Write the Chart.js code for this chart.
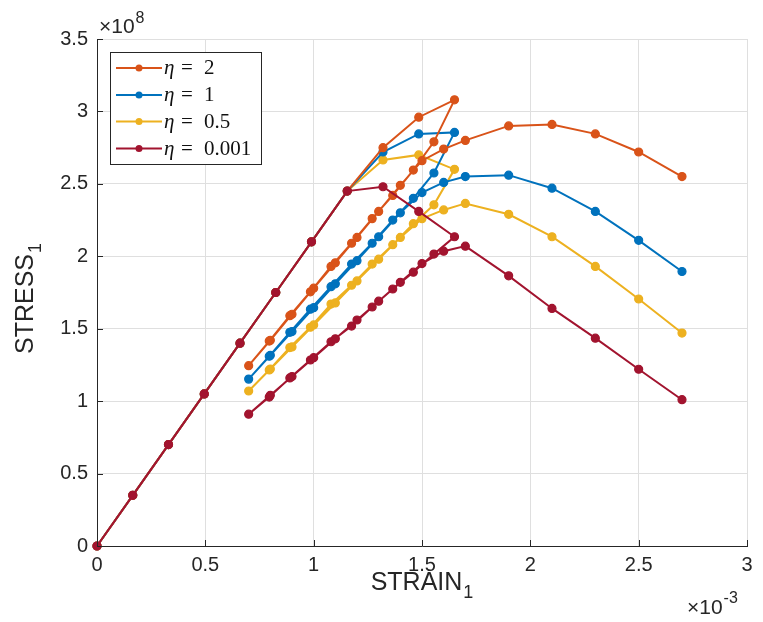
<!DOCTYPE html>
<html><head><meta charset="utf-8">
<script src="https://cdn.jsdelivr.net/npm/chart.js@4.4.1/dist/chart.umd.min.js"></script>
<style>html,body{margin:0;padding:0;background:#fff}canvas{display:block}</style>
</head><body>
<canvas id="c" width="763" height="622"></canvas>
<script>
// strain (x 1e-3): loading, unloading, reloading, softening
const strain = [0, 0.165, 0.33, 0.495, 0.66, 0.825, 0.99, 1.155, 1.32, 1.485, 1.65,
  1.555, 1.46, 1.365, 1.27, 1.175, 1.08, 0.985, 0.89, 0.795, 0.70,
  0.8, 0.9, 1.0, 1.1, 1.2, 1.3, 1.4, 1.5, 1.6, 1.7,
  1.9, 2.1, 2.3, 2.5, 2.7];
// stress (x 1e8)
const stressEta2 = [0, 0.35, 0.70, 1.05, 1.40, 1.75, 2.10, 2.45, 2.75, 2.96, 3.08,
  2.79, 2.595, 2.42, 2.26, 2.09, 1.93, 1.755, 1.59, 1.415, 1.245,
  1.42, 1.60, 1.78, 1.955, 2.13, 2.31, 2.49, 2.66, 2.74, 2.80,
  2.90, 2.91, 2.845, 2.72, 2.55];
const stressEta1 = [0, 0.35, 0.70, 1.05, 1.40, 1.75, 2.10, 2.45, 2.72, 2.845, 2.855,
  2.575, 2.40, 2.25, 2.09, 1.946, 1.79, 1.635, 1.475, 1.31, 1.152,
  1.316, 1.48, 1.645, 1.81, 1.97, 2.135, 2.30, 2.44, 2.51, 2.55,
  2.56, 2.47, 2.31, 2.11, 1.895];
const stressEta05 = [0, 0.35, 0.70, 1.05, 1.40, 1.75, 2.10, 2.45, 2.665, 2.70, 2.60,
  2.355, 2.225, 2.08, 1.946, 1.80, 1.67, 1.51, 1.37, 1.215, 1.07,
  1.222, 1.374, 1.526, 1.678, 1.83, 1.98, 2.13, 2.26, 2.32, 2.365,
  2.29, 2.135, 1.93, 1.705, 1.47];
const stressEta0001 = [0, 0.35, 0.70, 1.05, 1.40, 1.75, 2.10, 2.45, 2.48, 2.31, 2.135,
  2.015, 1.89, 1.774, 1.65, 1.518, 1.41, 1.284, 1.16, 1.028, 0.91,
  1.04, 1.17, 1.30, 1.43, 1.56, 1.69, 1.82, 1.95, 2.035, 2.07,
  1.865, 1.64, 1.435, 1.22, 1.01];
const etaLabels = ['2', '1', '0.5', '0.001'];
const seriesColors = ['#D95319', '#0072BD', '#EDB120', '#A2142F'];
const xTicks = [0, 0.5, 1, 1.5, 2, 2.5, 3];
const yTicks = [0, 0.5, 1, 1.5, 2, 2.5, 3, 3.5];
const xTitle = ['STRAIN', '1'];
const yTitle = ['STRESS', '1'];

const allStress = [stressEta2, stressEta1, stressEta05, stressEta0001];
const drawOrder = [1, 2, 3, 0];
const datasets = allStress.map((s, k) => ({
  label: 'η = ' + etaLabels[k],
  data: strain.map((x, i) => ({x: x, y: s[i]})),
  showLine: true,
  borderColor: seriesColors[k],
  backgroundColor: seriesColors[k],
  pointBackgroundColor: seriesColors[k],
  pointBorderColor: seriesColors[k],
  borderWidth: 2,
  pointRadius: 4,
  pointBorderWidth: 1.2,
  pointStyle: 'circle',
  order: drawOrder[k],
  clip: false
}));

const INK = '#262626';
const SANS = '"Liberation Sans", Arial, sans-serif';
const decor = {
  id: 'decor',
  afterDraw(chart) {
    const {ctx, chartArea: a, scales: {x, y}} = chart;
    ctx.save();
    ctx.strokeStyle = INK; ctx.lineWidth = 1;
    xTicks.forEach(v => {
      const px = Math.round(x.getPixelForValue(v)) + 0.5;
      ctx.beginPath(); ctx.moveTo(px, a.bottom); ctx.lineTo(px, a.bottom - 6); ctx.stroke();
    });
    yTicks.forEach(v => {
      const py = Math.round(y.getPixelForValue(v)) + 0.5;
      ctx.beginPath(); ctx.moveTo(a.left, py); ctx.lineTo(a.left + 6, py); ctx.stroke();
    });
    ctx.fillStyle = INK;
    ctx.textBaseline = 'alphabetic';
    ctx.textAlign = 'left';
    // axis titles with subscripts
    ctx.font = '25px ' + SANS;
    let wMain = ctx.measureText(xTitle[0]).width;
    ctx.font = '18px ' + SANS;
    let wSub = ctx.measureText(xTitle[1]).width;
    let cx = (a.left + a.right) / 2;
    let sx = cx - (wMain + wSub + 1) / 2;
    ctx.font = '25px ' + SANS;
    ctx.fillText(xTitle[0], sx, 590);
    ctx.font = '18px ' + SANS;
    ctx.fillText(xTitle[1], sx + wMain + 1, 598);

    ctx.save();
    ctx.translate(33, (a.top + a.bottom) / 2 + 6);
    ctx.rotate(-Math.PI / 2);
    ctx.font = '25px ' + SANS;
    wMain = ctx.measureText(yTitle[0]).width;
    ctx.font = '18px ' + SANS;
    wSub = ctx.measureText(yTitle[1]).width;
    sx = -(wMain + wSub + 1) / 2;
    ctx.font = '25px ' + SANS;
    ctx.fillText(yTitle[0], sx, 0);
    ctx.font = '18px ' + SANS;
    ctx.fillText(yTitle[1], sx + wMain + 1, 8);
    ctx.restore();

    // exponent labels
    ctx.font = '21px ' + SANS;
    ctx.fillText('×10', 99, 33);
    let w = ctx.measureText('×10').width;
    ctx.font = '16px ' + SANS;
    ctx.fillText('8', 99 + w + 1, 23);
    ctx.font = '21px ' + SANS;
    ctx.fillText('×10', 687, 614);
    w = ctx.measureText('×10').width;
    ctx.font = '16px ' + SANS;
    ctx.fillText('-3', 687 + w + 1, 603);

    // legend
    const bx = 110.5, by = 52.5, bw = 151, bh = 112;
    ctx.fillStyle = '#fff';
    ctx.fillRect(bx, by, bw, bh);
    ctx.strokeStyle = INK; ctx.lineWidth = 1;
    ctx.strokeRect(bx, by, bw, bh);
    const rows = [68, 95, 121.5, 148.5];
    chart.data.datasets.forEach((ds, k) => {
      const ry = rows[k];
      ctx.strokeStyle = ds.borderColor; ctx.lineWidth = 2;
      ctx.beginPath(); ctx.moveTo(116, ry); ctx.lineTo(162, ry); ctx.stroke();
      ctx.fillStyle = ds.borderColor;
      ctx.beginPath(); ctx.arc(139, ry, 3.5, 0, Math.PI * 2); ctx.fill();
      ctx.fillStyle = '#111';
      const parts = ds.label.split(' = ');
      ctx.font = 'italic 21px "Liberation Serif"';
      ctx.fillText(parts[0], 164, ry + 6);
      ctx.font = '21px "Liberation Serif"';
      ctx.fillText('=', 181, ry + 6);
      ctx.fillText(parts[1], 204, ry + 6);
    });
    ctx.restore();
  }
};

new Chart(document.getElementById('c'), {
  type: 'scatter',
  data: {datasets: datasets},
  options: {
    responsive: false,
    animation: false,
    layout: {padding: {left: 0, top: 39, right: 16, bottom: 0}},
    plugins: {legend: {display: false}, tooltip: {enabled: false}},
    scales: {
      x: {
        type: 'linear', min: 0, max: 3,
        afterFit(s) { s.height = 76; },
        afterBuildTicks(s) { s.ticks = xTicks.map(v => ({value: v})); },
        ticks: {padding: 7, color: INK, font: {family: 'Liberation Sans', size: 20}, callback: v => String(v)},
        grid: {color: '#dfdfdf', drawTicks: false, lineWidth: 1},
        border: {display: true, color: INK, width: 1},
        title: {display: false}
      },
      y: {
        type: 'linear', min: 0, max: 3.5,
        afterFit(s) { s.width = 97; },
        afterBuildTicks(s) { s.ticks = yTicks.map(v => ({value: v})); },
        ticks: {padding: 9, color: INK, font: {family: 'Liberation Sans', size: 20}, callback: v => String(v)},
        grid: {color: '#dfdfdf', drawTicks: false, lineWidth: 1},
        border: {display: true, color: INK, width: 1},
        title: {display: false}
      }
    }
  },
  plugins: [decor]
});
</script>
</body></html>
